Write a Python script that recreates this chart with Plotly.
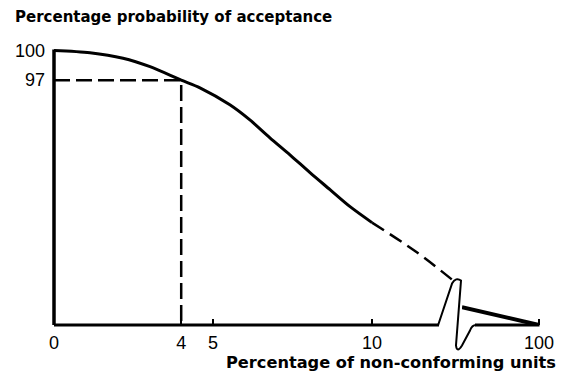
import plotly.graph_objects as go

# Operating characteristic curve (schematic): x = % non-conforming, y = drawn position of % acceptance
curve_x = [0, 1.13, 2.17, 3.02, 4.0, 4.59, 5.53, 6.16, 6.79, 7.42, 8.05, 8.68, 9.31, 10.0]
curve_y = [100, 99.2, 97.2, 94.1, 89.2, 86.4, 80.2, 74.7, 68.2, 62.0, 55.5, 49.3, 43.1, 37.3]
# extrapolated part, drawn dashed, up to the axis break
dash_x = [10.0, 11.42, 12.52]
dash_y = [37.3, 26.4, 16.5]
# part beyond the axis break
tail_x = [90, 100]
tail_y = [6.5, 0]

# reading marked on the curve: 4 % non-conforming -> 97 % acceptance
read_x = 4
read_y = 89.2

x_ticks_left = [0, 4, 5, 10]
x_ticks_right = [100]
y_tickvals = [89.2, 100]
y_ticktext = ["97", "100"]

FONT = "Liberation Sans, Arial, sans-serif"
TITLE_FONT = "DejaVu Sans, sans-serif"
INK = "black"

# page geometry (pixels) used to place the decoration in paper coordinates
W, H = 566, 383
L, R, T, B = 46, 543, 45, 325.5
X0 = 54  # pixel of x = 0 (vertical axis)


def P(px, py):
    return f"{(px - L) / (R - L):.4f},{(B - py) / (B - T):.4f}"


def xp(px):
    return (px - L) / (R - L)


def yp(py):
    return (B - py) / (B - T)


fig = go.Figure()

fig.add_trace(go.Scatter(x=curve_x, y=curve_y, mode="lines",
                         line=dict(color=INK, width=3, shape="spline", smoothing=0.8),
                         xaxis="x", yaxis="y"))
fig.add_trace(go.Scatter(x=dash_x, y=dash_y, mode="lines",
                         line=dict(color=INK, width=2.5, dash="14px,7px", shape="spline"),
                         xaxis="x", yaxis="y"))
fig.add_trace(go.Scatter(x=[0, read_x, read_x], y=[read_y, read_y, 0], mode="lines",
                         line=dict(color=INK, width=2.5, dash="16px,6px"), xaxis="x", yaxis="y"))
fig.add_trace(go.Scatter(x=tail_x, y=tail_y, mode="lines", line=dict(color=INK, width=4),
                         xaxis="x2", yaxis="y"))

# axis lines and the break symbol
shapes = [
    dict(type="line", xref="paper", yref="paper", x0=xp(X0), x1=xp(X0), y0=0, y1=yp(49.5),
         line=dict(color=INK, width=3.5)),
    dict(type="line", xref="paper", yref="paper", x0=xp(X0), x1=xp(439), y0=0, y1=0,
         line=dict(color=INK, width=3)),
    dict(type="line", xref="paper", yref="paper", x0=xp(475), x1=xp(539.5), y0=0, y1=0,
         line=dict(color=INK, width=3)),
    dict(type="path", xref="paper", yref="paper",
         path=(f"M{P(438, 326)} L{P(452, 284)} Q{P(456, 277)} {P(461, 281)} L{P(456, 346)} "
               f"Q{P(457, 354)} {P(462, 346)} L{P(470, 331)} Q{P(472, 325.5)} {P(476, 325.5)}"),
         line=dict(color=INK, width=2)),
]

axis_common = dict(showgrid=False, zeroline=False, showline=False, automargin=False,
                   ticks="inside", ticklen=6, tickwidth=2, tickcolor=INK, ticklabelstandoff=5,
                   tickfont=dict(family=FONT, size=18, color=INK))

fig.update_layout(
    width=W,
    height=H,
    margin=dict(l=L, r=W - R, t=T, b=H - B, pad=0),
    paper_bgcolor="white",
    plot_bgcolor="white",
    showlegend=False,
    shapes=shapes,
    xaxis=dict(domain=[0, xp(453.1)], range=[-(X0 - L) / 31.8, 12.55], tickvals=x_ticks_left,
               anchor="y", **axis_common),
    xaxis2=dict(domain=[xp(462), 1], range=[90, 100 + (R - 539) / 7.7], tickvals=x_ticks_right,
                anchor="y", **axis_common),
    yaxis=dict(range=[0, 102], tickvals=y_tickvals, ticktext=y_ticktext, ticks="",
               showgrid=False, zeroline=False, showline=False, automargin=False,
               tickfont=dict(family=FONT, size=18, color=INK)),
    annotations=[
        dict(text="Percentage probability of acceptance", xref="paper", yref="paper",
             x=xp(13), y=yp(17), xanchor="left", yanchor="middle",
             showarrow=False, font=dict(family=TITLE_FONT, size=15, color=INK, weight="bold")),
        dict(text="Percentage of non-conforming units", xref="paper", yref="paper",
             x=xp(558), y=yp(363), xanchor="right", yanchor="middle",
             showarrow=False, font=dict(family=TITLE_FONT, size=16.2, color=INK, weight="bold")),
    ],
)

# the page's default body margin would push the figure 8px right and down
fig.write_html("out.html", config={"displayModeBar": False},
               post_script="document.body.style.margin = '0';")
